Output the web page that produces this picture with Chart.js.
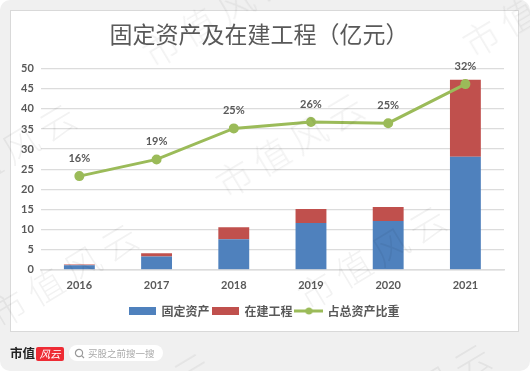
<!DOCTYPE html>
<html lang="zh-CN">
<head>
<meta charset="UTF-8">
<title>固定资产及在建工程</title>
<script src="https://cdn.jsdelivr.net/npm/chart.js"></script>
<style>
    html, body { margin: 0; padding: 0; background: #fff; }
    #page { position: relative; width: 530px; height: 371px; background: #f0f0f0; border-radius: 10px; overflow: hidden; }
    #card { position: absolute; left: 10px; top: 10px; width: 507px; height: 320px; background: #fff; border: 1px solid #d9d9d9; }
    #chart { position: absolute; left: 0; top: 0; }
    .mark { position: absolute; font: 300 36px "Noto Sans CJK SC", sans-serif; color: #000; opacity: 0.05; letter-spacing: 7px; white-space: nowrap; transform: rotate(-31deg); transform-origin: 0 50%; pointer-events: none; }
    #brand { position: absolute; left: 10px; top: 345px; font: 700 12.5px "Noto Sans CJK SC", sans-serif; color: #222; line-height: 16px; }
    #logo { position: absolute; left: 36px; top: 347px; width: 28px; height: 14px; background: #ee2b34; border-radius: 2px; color: #fff; font: italic 400 10.5px/14px "Noto Sans CJK SC", sans-serif; text-align: center; }
    #search { position: absolute; left: 69px; top: 345px; width: 94px; height: 16px; background: #fff; border-radius: 8px; color: #aaa; font: 400 9.5px/16px "Noto Sans CJK SC", sans-serif; text-indent: 19px; }
    #search svg { position: absolute; left: 5px; top: 3px; }
</style>
</head>
<body>
<div id="page">
    <div id="card"></div>
    <canvas id="chart" width="530" height="371"></canvas>
    <div id="brand">市值</div>
    <div id="logo">风云</div>
    <div id="search">
        <svg width="11" height="11" viewBox="0 0 11 11"><circle cx="5" cy="5" r="3.6" fill="none" stroke="#999" stroke-width="1.2"/><path d="M7.6 7.6L10 10" stroke="#999" stroke-width="1.2"/></svg>
        买股之前搜一搜
    </div>
    <div class="mark" style="left:145px;top:30px">市值风云</div>
    <div class="mark" style="left:-70px;top:170px">市值风云</div>
    <div class="mark" style="left:-8px;top:290px">市值风云</div>
    <div class="mark" style="left:218px;top:160px">市值风云</div>
    <div class="mark" style="left:300px;top:272px">市值风云</div>
    <div class="mark" style="left:465px;top:20px">市值风云</div>
    <div class="mark" style="left:345px;top:410px">市值风云</div>
    <div class="mark" style="left:65px;top:420px">市值风云</div>
</div>

<script>
    const years = ['2016', '2017', '2018', '2019', '2020', '2021'];
    const fixedAssets = [1.1, 3.3, 7.6, 11.6, 12.1, 28.1];
    const construction = [0.2, 0.8, 3.0, 3.5, 3.5, 19.1];
    const assetShare = [16.3, 19.2, 24.6, 25.7, 25.5, 32.3];
    const shareLabels = ['16%', '19%', '25%', '26%', '25%', '32%'];

    const BLUE = '#4f81bd';
    const RED = '#c0504d';
    const GREEN = '#9bbb59';
    const TEXT = '#595959';
    const GRID = '#dcdcdc';

    // legend swatches: Excel style bars and a line with a dot
    function barSwatch(color) {
        const c = document.createElement('canvas');
        c.width = 27;
        c.height = 8;
        const ctx = c.getContext('2d');
        ctx.fillStyle = color;
        ctx.fillRect(0, 0, 27, 8);
        return c;
    }

    function lineSwatch(color) {
        const c = document.createElement('canvas');
        c.width = 29;
        c.height = 8;
        const ctx = c.getContext('2d');
        ctx.fillStyle = color;
        ctx.fillRect(0, 2.5, 29, 3);
        ctx.beginPath();
        ctx.arc(14.5, 4, 3.5, 0, Math.PI * 2);
        ctx.fill();
        return c;
    }

    const swatches = [barSwatch(BLUE), barSwatch(RED), lineSwatch(GREEN)];

    const shareLabelPlugin = {
        id: 'shareLabels',
        // the legend sits a little left of the plot centre
        afterLayout(chart) {
            chart.legend.right -= 15;
        },
        afterDatasetsDraw(chart) {
            const ctx = chart.ctx;
            ctx.save();
            ctx.font = 'bold 11px Lato, sans-serif';
            ctx.fillStyle = TEXT;
            ctx.textAlign = 'center';
            ctx.textBaseline = 'middle';
            chart.getDatasetMeta(2).data.forEach((pt, i) => {
                ctx.fillText(shareLabels[i], pt.x, pt.y - 18);
            });
            ctx.restore();
        }
    };

    new Chart(document.getElementById('chart').getContext('2d'), {
        type: 'bar',
        data: {
            labels: years,
            datasets: [
                { label: '固定资产', data: fixedAssets, backgroundColor: BLUE, stack: 'total', yAxisID: 'y', order: 2, barPercentage: 0.4, categoryPercentage: 1 },
                { label: '在建工程', data: construction, backgroundColor: RED, stack: 'total', yAxisID: 'y', order: 2, barPercentage: 0.4, categoryPercentage: 1 },
                { label: '占总资产比重', type: 'line', data: assetShare, borderColor: GREEN, backgroundColor: GREEN, borderWidth: 3, pointRadius: 3.5, pointHoverRadius: 3.5, tension: 0, yAxisID: 'y1', order: 1 }
            ]
        },
        options: {
            responsive: false,
            animation: false,
            layout: { padding: { left: 14, right: 26, top: 20, bottom: 44 } },
            scales: {
                x: {
                    stacked: true,
                    grid: { display: false, drawTicks: false },
                    border: { color: GRID, width: 1.5 },
                    ticks: { color: TEXT, font: { family: 'Lato, sans-serif', size: 11, weight: 'bold' }, padding: 9 }
                },
                y: {
                    stacked: true,
                    min: 0,
                    max: 50,
                    grid: { color: GRID, lineWidth: 1.3, drawTicks: false },
                    border: { display: false },
                    ticks: { stepSize: 5, color: TEXT, font: { family: 'Lato, sans-serif', size: 11, weight: 'bold' }, padding: 7 }
                },
                y1: { display: false, min: 0, max: 35 }
            },
            plugins: {
                tooltip: { enabled: false },
                title: {
                    display: true,
                    text: '固定资产及在建工程（亿元）',
                    color: TEXT,
                    font: { family: '"Noto Sans CJK SC", sans-serif', size: 23, weight: 'normal' },
                    padding: { top: 0, bottom: 21 }
                },
                legend: {
                    position: 'bottom',
                    fullSize: false,
                    labels: {
                        usePointStyle: true,
                        pointStyleWidth: 25,
                        padding: 4,
                        color: TEXT,
                        font: { family: '"Noto Sans CJK SC", sans-serif', size: 12, weight: 'bold' },
                        generateLabels: chart => chart.data.datasets.map((ds, i) => ({
                            text: ds.label,
                            pointStyle: swatches[i],
                            fontColor: TEXT,
                            datasetIndex: i
                        }))
                    }
                }
            }
        },
        plugins: [shareLabelPlugin]
    });
</script>
</body>
</html>
